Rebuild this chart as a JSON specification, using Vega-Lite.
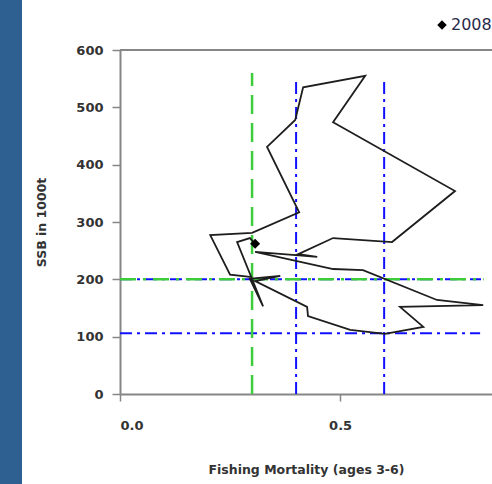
{
  "$schema": "https://vega.github.io/schema/vega-lite/v6.json",
  "width": 372,
  "height": 344,
  "autosize": {"type": "none"},
  "padding": {"left": 120, "top": 50, "right": 0, "bottom": 90},
  "background": "#2e6092",
  "view": {"fill": "white", "stroke": "white", "strokeWidth": 196},
  "config": {
    "font": "DejaVu Sans",
    "axis": {
      "grid": false,
      "domainColor": "#868686",
      "domainWidth": 2,
      "tickColor": "#868686",
      "tickWidth": 1.5,
      "labelFont": "DejaVu Sans",
      "labelFontWeight": "bold",
      "labelFontSize": 13,
      "labelColor": "#333333",
      "titleFont": "DejaVu Sans",
      "titleFontWeight": "bold",
      "titleFontSize": 12.5,
      "titleColor": "#333333"
    }
  },
  "datasets": {
    "traj": [
      {"year": 1976, "F": 0.300, "SSB": 204},
      {"year": 1977, "F": 0.250, "SSB": 208},
      {"year": 1978, "F": 0.205, "SSB": 277},
      {"year": 1979, "F": 0.300, "SSB": 281},
      {"year": 1980, "F": 0.407, "SSB": 317},
      {"year": 1981, "F": 0.334, "SSB": 431},
      {"year": 1982, "F": 0.398, "SSB": 478},
      {"year": 1983, "F": 0.416, "SSB": 535},
      {"year": 1984, "F": 0.557, "SSB": 555},
      {"year": 1985, "F": 0.484, "SSB": 474},
      {"year": 1986, "F": 0.761, "SSB": 354},
      {"year": 1987, "F": 0.618, "SSB": 265},
      {"year": 1988, "F": 0.484, "SSB": 272},
      {"year": 1989, "F": 0.405, "SSB": 244},
      {"year": 1990, "F": 0.448, "SSB": 239},
      {"year": 1991, "F": 0.307, "SSB": 248},
      {"year": 1992, "F": 0.484, "SSB": 218},
      {"year": 1993, "F": 0.552, "SSB": 216},
      {"year": 1994, "F": 0.720, "SSB": 164},
      {"year": 1995, "F": 0.825, "SSB": 155},
      {"year": 1996, "F": 0.636, "SSB": 152},
      {"year": 1997, "F": 0.689, "SSB": 117},
      {"year": 1998, "F": 0.602, "SSB": 105},
      {"year": 1999, "F": 0.523, "SSB": 112},
      {"year": 2000, "F": 0.427, "SSB": 136},
      {"year": 2001, "F": 0.425, "SSB": 152},
      {"year": 2002, "F": 0.307, "SSB": 197},
      {"year": 2003, "F": 0.364, "SSB": 206},
      {"year": 2004, "F": 0.295, "SSB": 201},
      {"year": 2005, "F": 0.325, "SSB": 153},
      {"year": 2006, "F": 0.266, "SSB": 265},
      {"year": 2007, "F": 0.295, "SSB": 272},
      {"year": 2008, "F": 0.307, "SSB": 262}
    ]
  },
  "layer": [
    {
      "data": {"values": [{"F": 0.4, "lo": 0, "hi": 553}, {"F": 0.6, "lo": 0, "hi": 553}]},
      "mark": {"type": "rule", "color": "#1010ff", "strokeWidth": 2, "strokeDash": [12, 5, 3, 5]},
      "encoding": {
        "x": {"field": "F", "type": "quantitative"},
        "y": {"field": "lo", "type": "quantitative"},
        "y2": {"field": "hi"}
      }
    },
    {
      "data": {"values": [{"SSB": 106, "lo": 0, "hi": 0.818}, {"SSB": 200, "lo": 0, "hi": 0.82}]},
      "mark": {"type": "rule", "color": "#1010ff", "strokeWidth": 2, "strokeDash": [12, 5, 3, 5]},
      "encoding": {
        "y": {"field": "SSB", "type": "quantitative"},
        "x": {"field": "lo", "type": "quantitative"},
        "x2": {"field": "hi"}
      }
    },
    {
      "data": {"values": [{"SSB": 200, "lo": 0, "hi": 0.826}]},
      "mark": {"type": "rule", "color": "#3ccc3c", "strokeWidth": 2.5, "strokeDash": [16, 7, 3, 7]},
      "encoding": {
        "y": {"field": "SSB", "type": "quantitative"},
        "x": {"field": "lo", "type": "quantitative"},
        "x2": {"field": "hi"}
      }
    },
    {
      "data": {"values": [{"F": 0.3, "lo": 0, "hi": 560}]},
      "mark": {"type": "rule", "color": "#3ccc3c", "strokeWidth": 2.5, "strokeDash": [19, 9]},
      "encoding": {
        "x": {"field": "F", "type": "quantitative"},
        "y": {"field": "lo", "type": "quantitative"},
        "y2": {"field": "hi"}
      }
    },
    {
      "data": {"values": [{"SSB": 600}]},
      "mark": {"type": "rule", "color": "#868686", "strokeWidth": 2},
      "encoding": {"y": {"field": "SSB", "type": "quantitative"}}
    },
    {
      "data": {"name": "traj"},
      "mark": {"type": "line", "color": "#1e1e1e", "strokeWidth": 1.8},
      "encoding": {
        "x": {
          "field": "F", "type": "quantitative",
          "scale": {"domain": [0, 0.845], "nice": false, "zero": false},
          "axis": {"values": [0, 0.5], "format": ".1f", "tickSize": 7, "labelPadding": 18, "title": "Fishing Mortality (ages 3-6)", "titlePadding": 31}
        },
        "y": {
          "field": "SSB", "type": "quantitative",
          "scale": {"domain": [0, 600], "nice": false},
          "axis": {"values": [0, 100, 200, 300, 400, 500, 600], "tickSize": 8, "labelPadding": 9, "title": "SSB in 1000t", "titlePadding": 27}
        },
        "order": {"field": "year", "type": "quantitative"}
      }
    },
    {
      "data": {"name": "traj"},
      "transform": [{"filter": "datum.year == 2008"}, {"calculate": "'2008'", "as": "label"}],
      "mark": {"type": "point", "filled": true, "color": "black", "size": 100, "opacity": 1},
      "encoding": {
        "x": {"field": "F", "type": "quantitative"},
        "y": {"field": "SSB", "type": "quantitative"},
        "shape": {
          "field": "label", "type": "nominal",
          "scale": {"domain": ["2008"], "range": ["diamond"]},
          "legend": {"title": null, "orient": "none", "legendX": 314, "legendY": -33, "padding": 0,
            "symbolFillColor": "black", "symbolStrokeColor": "black", "symbolSize": 90,
            "labelFont": "DejaVu Sans", "labelFontSize": 16, "labelColor": "#2a2a4a", "labelOffset": 1}
        }
      }
    }
  ]
}
